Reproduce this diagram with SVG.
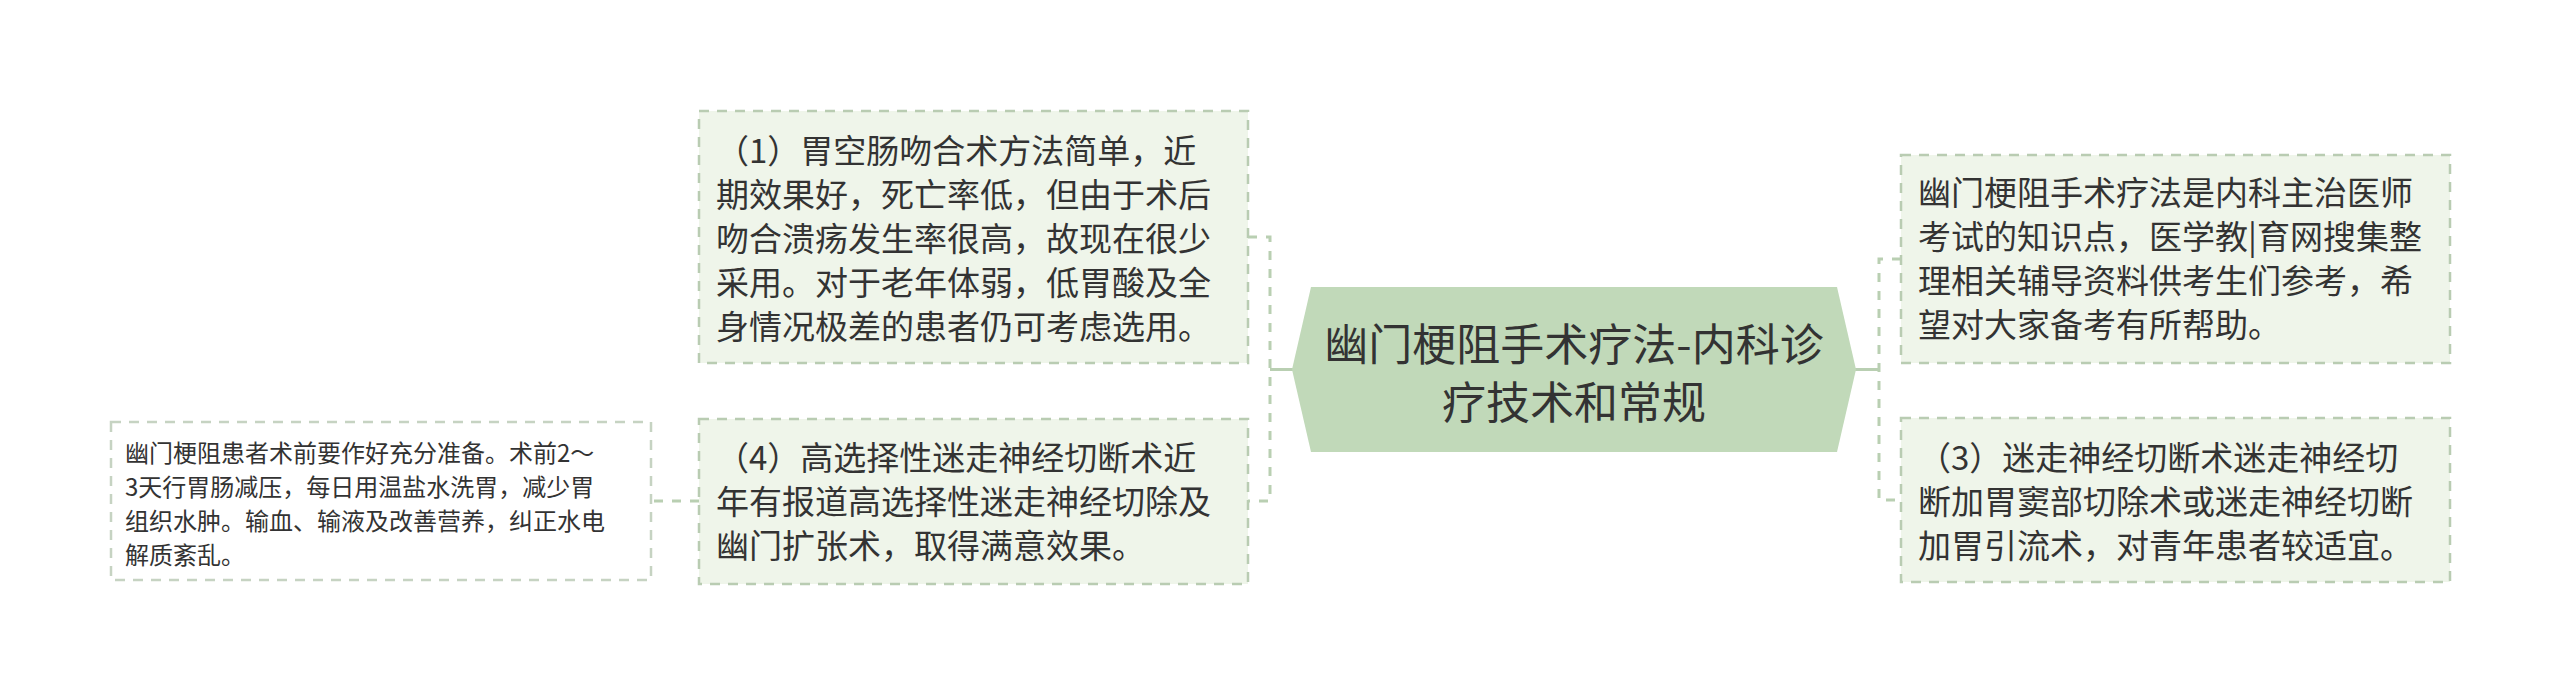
<svg xmlns="http://www.w3.org/2000/svg" width="2560" height="695" viewBox="0 0 2560 695">
<style>
.box{fill:#eff5ea;stroke:#b9ccb2;stroke-width:2.5;stroke-dasharray:10 8;}
.box2{fill:#ffffff;stroke:#c6d3c2;stroke-width:2.5;stroke-dasharray:10 8;}
.center{fill:#c1d9b9;}
.t{font-family:"Noto Sans CJK SC","Noto Sans",sans-serif;fill:#333333;}
.t33{font-size:33px;}
.t25{font-size:24px;}
.t44{font-size:44px;}
.dash{fill:none;stroke:#b9cfb2;stroke-width:3;stroke-dasharray:9 9;}
.solid{fill:none;stroke:#b9cfb2;stroke-width:3;}
</style>
<rect width="2560" height="695" fill="#ffffff"/>
<g id="connectors">
<line class="solid" x1="1270" y1="369.5" x2="1294" y2="369.5"/>
<path class="dash" d="M1248 237 H1270 V501 H1248"/>
<line class="solid" x1="1854" y1="369.5" x2="1879" y2="369.5"/>
<path class="dash" d="M1901 259 H1879 V500 H1901"/>
<line class="dash" x1="699" y1="501" x2="651" y2="501"/>
</g>
<g id="center">
<polygon class="center" points="1292,369.5 1311,287 1837,287 1856,369.5 1837,452 1311,452"/>
<text class="t t44" text-anchor="middle" x="1574" y="361">幽门梗阻手术疗法-内科诊</text>
<text class="t t44" text-anchor="middle" x="1574" y="419">疗技术和常规</text>
</g>
<g id="node1">
<rect class="box" x="699" y="111" width="549" height="252"/>
<text class="t t33" x="716" y="163">（1）胃空肠吻合术方法简单，近</text>
<text class="t t33" x="716" y="207">期效果好，死亡率低，但由于术后</text>
<text class="t t33" x="716" y="251">吻合溃疡发生率很高，故现在很少</text>
<text class="t t33" x="716" y="295">采用。对于老年体弱，低胃酸及全</text>
<text class="t t33" x="716" y="339">身情况极差的患者仍可考虑选用。</text>
</g>
<g id="node4">
<rect class="box" x="699" y="419" width="549" height="165"/>
<text class="t t33" x="716" y="470">（4）高选择性迷走神经切断术近</text>
<text class="t t33" x="716" y="514">年有报道高选择性迷走神经切除及</text>
<text class="t t33" x="716" y="558">幽门扩张术，取得满意效果。</text>
</g>
<g id="node4sub">
<rect class="box2" x="111" y="422" width="540" height="158"/>
<text class="t t25" x="125" y="462">幽门梗阻患者术前要作好充分准备。术前2～</text>
<text class="t t25" x="125" y="496">3天行胃肠减压，每日用温盐水洗胃，减少胃</text>
<text class="t t25" x="125" y="530">组织水肿。输血、输液及改善营养，纠正水电</text>
<text class="t t25" x="125" y="564">解质紊乱。</text>
</g>
<g id="nodeR1">
<rect class="box" x="1901" y="155" width="549" height="208"/>
<text class="t t33" x="1918" y="205">幽门梗阻手术疗法是内科主治医师</text>
<text class="t t33" x="1918" y="249">考试的知识点，医学教|育网搜集整</text>
<text class="t t33" x="1918" y="293">理相关辅导资料供考生们参考，希</text>
<text class="t t33" x="1918" y="337">望对大家备考有所帮助。</text>
</g>
<g id="nodeR3">
<rect class="box" x="1901" y="418" width="549" height="164"/>
<text class="t t33" x="1918" y="470">（3）迷走神经切断术迷走神经切</text>
<text class="t t33" x="1918" y="514">断加胃窦部切除术或迷走神经切断</text>
<text class="t t33" x="1918" y="558">加胃引流术，对青年患者较适宜。</text>
</g>
</svg>
